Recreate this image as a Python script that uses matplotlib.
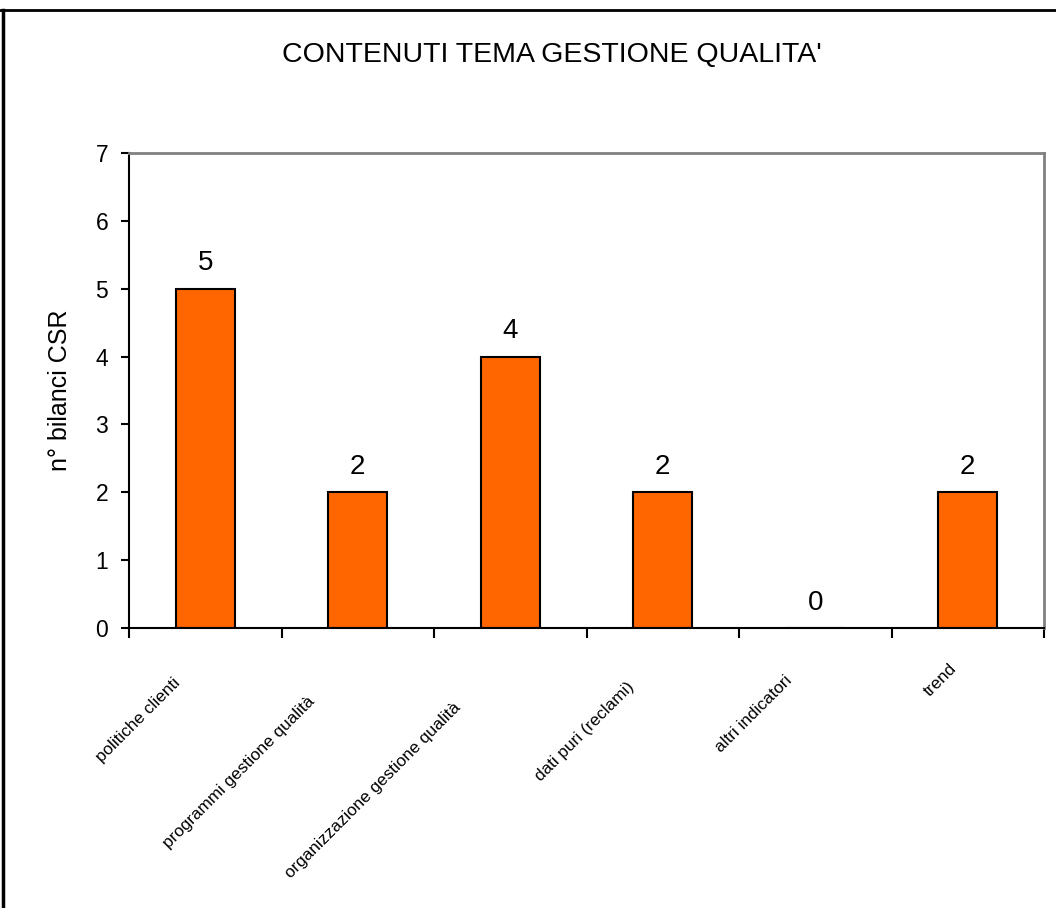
import numpy as np
import matplotlib.pyplot as plt
from matplotlib.lines import Line2D
from matplotlib.transforms import ScaledTranslation

plt.rcParams['font.family'] = ['Liberation Sans', 'DejaVu Sans']

categories = ['politiche clienti', 'programmi gestione qualità',
              'organizzazione gestione qualità', 'dati puri (reclami)',
              'altri indicatori', 'trend']
values = [5, 2, 4, 2, 0, 2]

fig = plt.figure(figsize=(10.56, 9.08), dpi=100)
ax = fig.add_axes([129 / 1056, 1 - 628 / 908, (1044 - 129) / 1056, (628 - 153) / 908])

x = np.arange(len(categories))
ax.bar(x, values, width=0.39, color='#FF6600', edgecolor='black', linewidth=1.5)

for xi, v in zip(x, values):
    ax.annotate(str(v), (xi, v), xytext=(0, 9), textcoords='offset points',
                ha='center', va='bottom', fontsize=20)

ax.set_xlim(-0.5, len(categories) - 0.5)
ax.set_ylim(0, 7)
ax.set_yticks(range(0, 8))
ax.tick_params(axis='y', labelsize=16.5, length=6, width=1.5, direction='out', pad=9)

# ticks between categories
ax.set_xticks(np.arange(-0.5, len(categories)))
ax.set_xticklabels([])
ax.tick_params(axis='x', length=7, width=1.5, direction='out')

ax.set_ylabel('n° bilanci CSR', fontsize=18, labelpad=17)

for s in ['left', 'bottom']:
    ax.spines[s].set_color('black')
    ax.spines[s].set_linewidth(1.5)
for s in ['top', 'right']:
    ax.spines[s].set_color('#808080')
    ax.spines[s].set_linewidth(2)

fig.text(552 / 1056, 1 - 55 / 908, "CONTENUTI TEMA GESTIONE QUALITA'",
         ha='center', va='center', fontsize=20.5)

# rotated category labels, shifted along their direction like Excel does
label_size = 12.3
renderer = fig.canvas.get_renderer()
for xi, name in zip(x, categories):
    tmp = fig.text(0, 0, name, fontsize=label_size)
    L = tmp.get_window_extent(renderer).width
    tmp.remove()
    w = L / np.sqrt(2)
    dx = (-6 - 0.27 * w) / 100
    dy = (-31 - 0.27 * w) / 100
    ax.text(xi, 0, name, rotation=45, rotation_mode='anchor', ha='right', va='center',
            fontsize=label_size,
            transform=ax.get_xaxis_transform() + ScaledTranslation(dx, dy, fig.dpi_scale_trans))

# outer frame
fig.add_artist(Line2D([0, 1], [1 - 10 / 908, 1 - 10 / 908], color='black', linewidth=2))
fig.add_artist(Line2D([3 / 1056, 3 / 1056], [0, 1 - 10 / 908], color='black', linewidth=2.5))

fig.savefig('out.png', dpi=100, facecolor='white')
